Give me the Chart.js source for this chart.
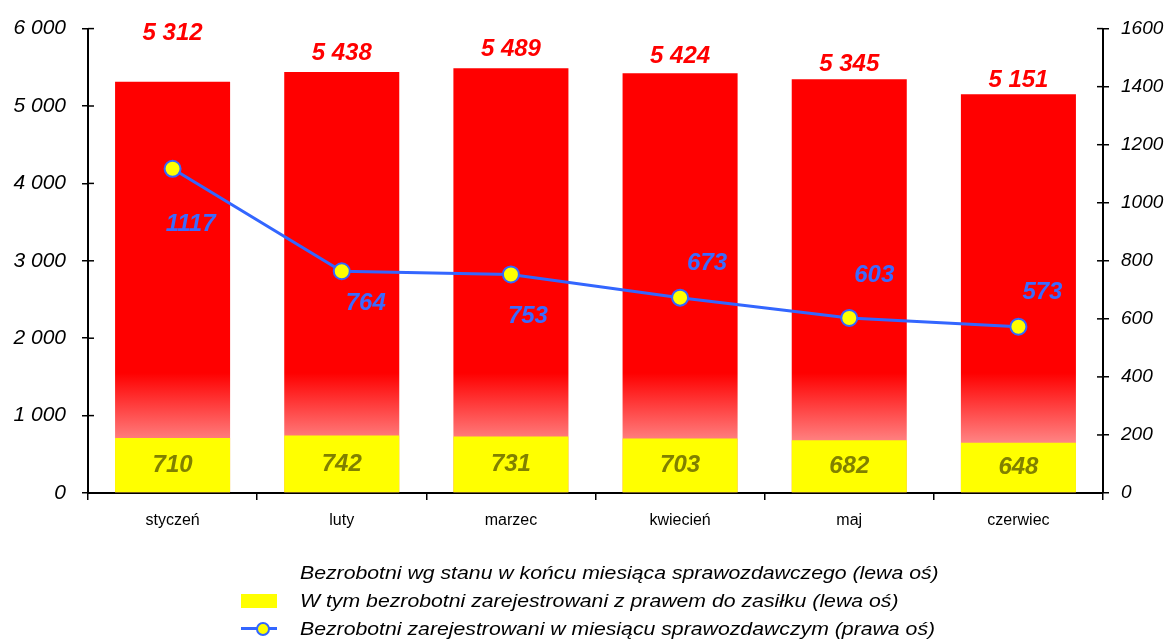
<!DOCTYPE html>
<html>
<head>
<meta charset="utf-8">
<script src="https://cdn.jsdelivr.net/npm/chart.js@4.4.0/dist/chart.umd.min.js"></script>
<style>
  body { margin: 0; background: #fff; }
  #wrap { position: relative; width: 1171px; height: 639px; }
  #legenda { position: absolute; left: 241px; top: 559px; font-family: "Liberation Sans", Arial, sans-serif; font-style: italic; font-size: 18px; color: #000; }
  .item { height: 28px; line-height: 28px; display: flex; align-items: center; white-space: nowrap; }
  .tekst { display: inline-block; transform: scaleX(1.18); transform-origin: left center; }
  .marker { width: 36px; height: 28px; margin-right: 23px; position: relative; flex: none; }
  .box { position: absolute; left: 0; top: 7px; width: 36px; height: 14px; background: #ffff00; }
  .linia { position: absolute; left: 0; top: 12px; width: 36px; height: 3px; background: #3366ff; }
  .kropka { position: absolute; left: 15px; top: 7px; width: 10px; height: 10px; border-radius: 50%; background: #ffff00; border: 2px solid #3366ff; }
</style>
</head>
<body>
<div id="wrap">
  <canvas id="wykres"></canvas>
  <div id="legenda">
    <div class="item"><span class="marker"></span><span class="tekst">Bezrobotni wg stanu w końcu miesiąca sprawozdawczego (lewa oś)</span></div>
    <div class="item"><span class="marker"><span class="box"></span></span><span class="tekst">W tym bezrobotni zarejestrowani z prawem do zasiłku (lewa oś)</span></div>
    <div class="item"><span class="marker"><span class="linia"></span><span class="kropka"></span></span><span class="tekst">Bezrobotni zarejestrowani w miesiącu sprawozdawczym (prawa oś)</span></div>
  </div>
</div>
<script>
// dane
const miesiace = ['styczeń', 'luty', 'marzec', 'kwiecień', 'maj', 'czerwiec'];
const bezrobotniKoniec = [5312, 5438, 5489, 5424, 5345, 5151];
const zPrawemDoZasilku = [710, 742, 731, 703, 682, 648];
const zarejestrowaniWMiesiacu = [1117, 764, 753, 673, 603, 573];

const czcionka = '"Liberation Sans", Arial, sans-serif';

// formata 6000 -> "6 000"
function formatujLiczbe(v) {
    return String(v).replace(/\B(?=(\d{3})+(?!\d))/g, ' ');
}

// gradient czerwieni przechodzący w róż przy dolnej części słupka
function gradientCzerwony(context) {
    const chart = context.chart;
    const y = chart.scales.y;
    if (!chart.chartArea || !y) return '#ff0000';
    const g = chart.ctx.createLinearGradient(0, y.getPixelForValue(1550), 0, y.getPixelForValue(650));
    g.addColorStop(0, '#ff0000');
    g.addColorStop(1, '#ff8484');
    return g;
}

// przesunięcia etykiet linii (dx, dy) względem punktów
const przesuniecieLinii = [[18, 56], [24, 32], [17, 42], [27, -34], [25, -43], [24, -34]];
const przesuniecieSlupkow = [-48, -19, -19, -17, -15, -14];

const etykiety = {
    id: 'etykiety',
    afterDatasetsDraw(chart) {
        const ctx = chart.ctx;
        ctx.save();
        ctx.font = 'italic bold 24px ' + czcionka;
        ctx.textAlign = 'center';
        ctx.textBaseline = 'middle';

        const czerwone = chart.getDatasetMeta(0);
        czerwone.data.forEach((bar, i) => {
            ctx.fillStyle = '#ff0000';
            ctx.fillText(formatujLiczbe(bezrobotniKoniec[i]), bar.x, bar.y + przesuniecieSlupkow[i]);
        });

        const zolte = chart.getDatasetMeta(1);
        zolte.data.forEach((bar, i) => {
            ctx.fillStyle = '#808000';
            ctx.fillText(formatujLiczbe(zPrawemDoZasilku[i]), bar.x, (bar.y + bar.base) / 2);
        });

        const linia = chart.getDatasetMeta(2);
        linia.data.forEach((pt, i) => {
            ctx.fillStyle = '#3a6bff';
            ctx.fillText(String(zarejestrowaniWMiesiacu[i]), pt.x + przesuniecieLinii[i][0], pt.y + przesuniecieLinii[i][1]);
        });
        ctx.restore();
    }
};

// znaczniki osi przecinające linię osi (do wewnątrz)
const znaczniki = {
    id: 'znaczniki',
    afterDraw(chart) {
        const ctx = chart.ctx;
        ctx.save();
        ctx.strokeStyle = '#000';
        ctx.lineWidth = 1.5;
        const y = chart.scales.y;
        const y1 = chart.scales.y1;
        y.ticks.forEach((t) => {
            const py = y.getPixelForValue(t.value);
            ctx.beginPath(); ctx.moveTo(y.right, py); ctx.lineTo(y.right + 6, py); ctx.stroke();
        });
        y1.ticks.forEach((t) => {
            const py = y1.getPixelForValue(t.value);
            ctx.beginPath(); ctx.moveTo(y1.left - 6, py); ctx.lineTo(y1.left, py); ctx.stroke();
        });
        ctx.restore();
    }
};

const wykres = new Chart(document.getElementById('wykres'), {
    type: 'bar',
    data: {
        labels: miesiace,
        datasets: [
            {
                label: 'Bezrobotni wg stanu w końcu miesiąca sprawozdawczego (lewa oś)',
                data: bezrobotniKoniec,
                backgroundColor: gradientCzerwony,
                yAxisID: 'y',
                order: 2,
                categoryPercentage: 1,
                barPercentage: 0.68
            },
            {
                label: 'W tym bezrobotni zarejestrowani z prawem do zasiłku (lewa oś)',
                data: zPrawemDoZasilku,
                backgroundColor: '#ffff00',
                yAxisID: 'y',
                order: 1,
                categoryPercentage: 1,
                barPercentage: 0.68
            },
            {
                type: 'line',
                label: 'Bezrobotni zarejestrowani w miesiącu sprawozdawczym (prawa oś)',
                data: zarejestrowaniWMiesiacu,
                borderColor: '#3366ff',
                borderWidth: 3,
                pointBackgroundColor: '#ffff00',
                pointBorderColor: '#3366ff',
                pointBorderWidth: 2,
                pointRadius: 8,
                yAxisID: 'y1',
                order: 0,
                tension: 0
            }
        ]
    },
    options: {
        responsive: true,
        maintainAspectRatio: false,
        animation: false,
        layout: { padding: { top: 28, left: 0, right: 0, bottom: 0 } },
        plugins: {
            legend: { display: false },
            tooltip: { enabled: false }
        },
        scales: {
            x: {
                stacked: true,
                offset: true,
                afterFit: (s) => { s.height = 146; },
                grid: { offset: true, drawOnChartArea: false, color: '#000', tickLength: 7, lineWidth: 1.5 },
                border: { color: '#000', width: 2 },
                ticks: { color: '#000', font: { family: czcionka, size: 16 }, padding: 11 }
            },
            y: {
                position: 'left',
                min: 0,
                max: 6000,
                afterFit: (s) => { s.width = 88; },
                grid: { drawOnChartArea: false, color: '#000', tickLength: 6, lineWidth: 1.5 },
                border: { color: '#000', width: 2 },
                ticks: {
                    stepSize: 1000,
                    color: '#000',
                    padding: 16,
                    font: { family: czcionka, size: 21, style: 'italic' },
                    callback: (v) => formatujLiczbe(v)
                }
            },
            y1: {
                position: 'right',
                min: 0,
                max: 1600,
                afterFit: (s) => { s.width = 68; },
                grid: { drawOnChartArea: false, color: '#000', tickLength: 6, lineWidth: 1.5 },
                border: { color: '#000', width: 2 },
                ticks: {
                    stepSize: 200,
                    color: '#000',
                    padding: 12,
                    font: { family: czcionka, size: 19, style: 'italic' },
                    callback: (v) => String(v)
                }
            }
        }
    },
    plugins: [etykiety, znaczniki]
});
</script>
</body>
</html>
